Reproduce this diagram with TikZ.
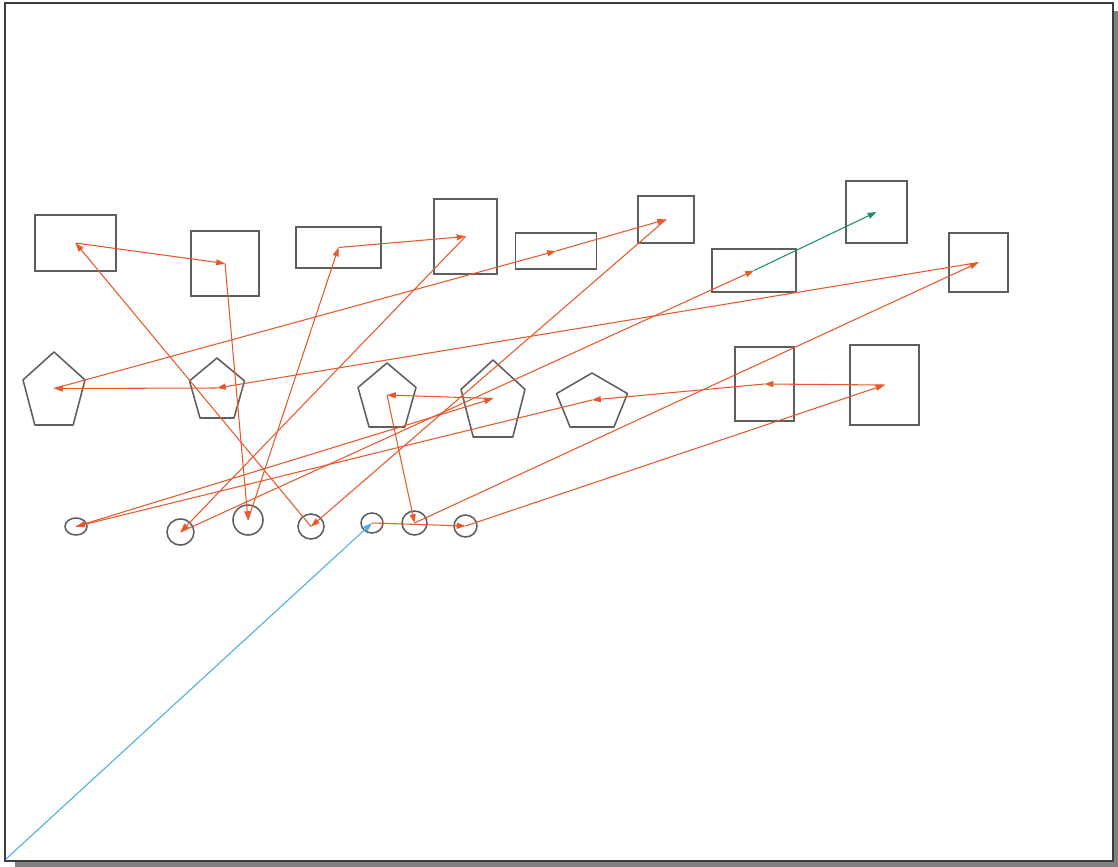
\documentclass[tikz,border=0pt]{standalone}
\usepackage{tikz}
\usetikzlibrary{shapes.geometric, arrows.meta, calc}
\definecolor{framegray}{HTML}{3C3C3C}
\definecolor{shapegray}{HTML}{5E5E5E}
\definecolor{shadowgray}{HTML}{808080}
\definecolor{edgeorange}{HTML}{E8582A}
\definecolor{edgegreen}{HTML}{1E8C6E}
\definecolor{edgeblue}{HTML}{4AB0DE}
% pentagon: name, centre x, centre y, width, height
\newcommand{\pentagon}[5]{%
  \coordinate (#1) at (#2,#3);
  \draw[pent] ({#2},{#3-0.5*#5}) -- ({#2+0.5*#4},{#3-0.118*#5})
    -- ({#2+0.309*#4},{#3+0.5*#5}) -- ({#2-0.309*#4},{#3+0.5*#5})
    -- ({#2-0.5*#4},{#3-0.118*#5}) -- cycle;}

\begin{document}
\begin{tikzpicture}[
  x=0.025cm, y=-0.025cm,
  box/.style 2 args={rectangle, draw=shapegray, line width=1.1pt, inner sep=0pt,
             minimum width=#1*0.025cm, minimum height=#2*0.025cm},
  ring/.style 2 args={ellipse, draw=shapegray, line width=1.1pt, inner sep=0pt,
             minimum width=#1*0.025cm, minimum height=#2*0.025cm},
  pent/.style={draw=shapegray, line width=1.1pt, line join=round},
  arr/.style={-{Triangle[length=2.2mm,width=1.5mm]}, line width=0.75pt, color=edgeorange}
]
\useasboundingbox (0,0) rectangle (1118,867);
% frame with shadow
\fill[shadowgray] (15,11) rectangle (1118,867);
\draw[framegray, line width=1.4pt, fill=white] (5,3) rectangle (1113,861);

% top row
\node[box={81}{56}] (r1) at (75.5,243) {};
\node[box={68}{65}] (r2) at (225,263.5) {};
\node[box={85}{41}] (r3) at (338.5,247.5) {};
\node[box={63}{75}] (r4) at (465.5,236.5) {};
\node[box={81}{36}] (r5) at (556,251) {};
\node[box={56}{47}] (r6) at (666,219.5) {};
\node[box={84}{43}] (r7) at (754,270.5) {};
\node[box={61}{62}] (r8) at (876.5,212) {};
\node[box={59}{59}] (r9) at (978.5,262.5) {};
% middle row
\pentagon{p1}{54}{388.5}{62}{73}
\pentagon{p2}{217}{388}{55}{60}
\pentagon{p3}{387}{395}{58}{64}
\pentagon{p4}{493}{398.5}{64}{77}
\pentagon{p5}{592}{400}{71}{54}
\node[box={59}{74}] (r10) at (764.5,384) {};
\node[box={69}{80}] (r11) at (884.5,385) {};
% bottom row
\node[ring={22}{17}] (c1) at (76,526.5) {};
\node[ring={27}{26}] (c2) at (180.5,532) {};
\node[ring={30}{30}] (c3) at (248,520) {};
\node[ring={26}{25}] (c4) at (311,526.5) {};
\node[ring={22}{20}] (c5) at (372,523) {};
\node[ring={25}{24}] (c6) at (414.5,523) {};
\node[ring={23}{22}] (c7) at (465.5,526) {};
\coordinate (corner) at (6,859);

\draw[arr] (r1.center)--(r2.center); \draw[arr] (r2.center)--(c3.center);
\draw[arr] (c4.center)--(r1.center); \draw[arr] (c3.center)--(r3.center);
\draw[arr] (r3.center)--(r4.center); \draw[arr] (r4.center)--(c2.center);
\draw[arr] (c2.center)--(r7.center); \draw[arr] (p1)--(r5.center);
\draw[arr] (r5.center)--(r6.center); \draw[arr] (r6.center)--(c4.center);
\draw[arr] (r9.center)--(p2); \draw[arr] (p2)--(p1);
\draw[arr] (c6.center)--(r9.center); \draw[arr] (p3)--(c6.center);
\draw[arr] (p4)--(p3); \draw[arr] (c1.center)--(p4);
\draw[arr] (p5)--(c1.center); \draw[arr] (r10.center)--(p5);
\draw[arr] (r11.center)--(r10.center); \draw[arr] (c7.center)--(r11.center);
\draw[arr] (c5.center)--(c7.center);
\draw[arr, color=edgegreen] (r7.center)--(r8.center);
\draw[arr, color=edgeblue] (corner)--(c5.center);
\end{tikzpicture}
\end{document}
